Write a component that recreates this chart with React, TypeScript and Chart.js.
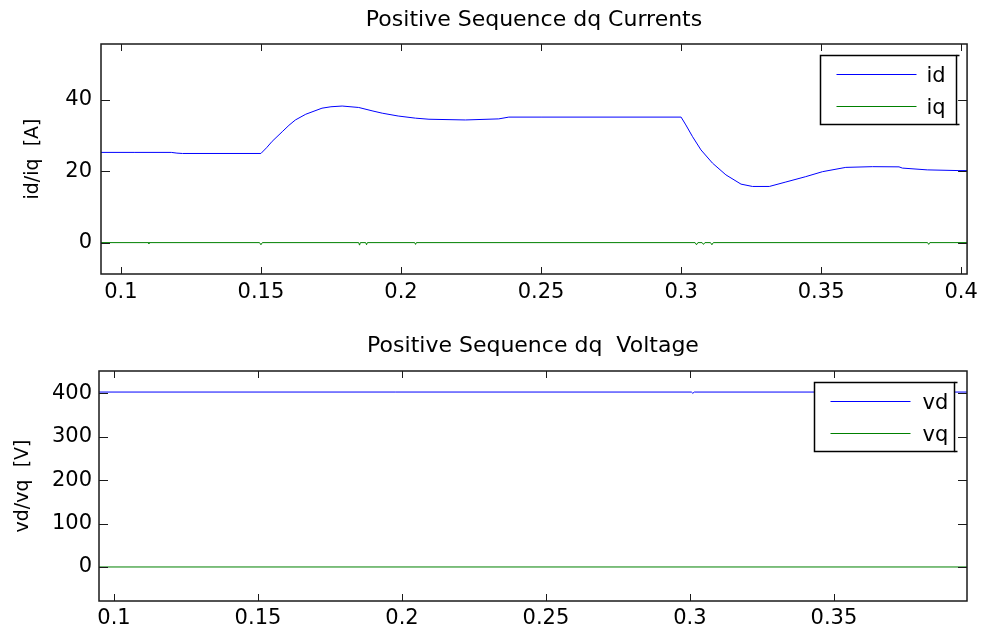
import React, { useEffect, useRef } from 'react';
import { Chart, registerables } from 'chart.js';

Chart.register(...registerables);

const FONT = "'DejaVu Sans', 'Liberation Sans', sans-serif";

// ---------- data ----------
const currentTitle = 'Positive Sequence dq Currents';
const voltageTitle = 'Positive Sequence dq  Voltage';
const currentYLabel = 'id/iq  [A]';
const voltageYLabel = 'vd/vq  [V]';

const idLabel = 'id';
const iqLabel = 'iq';
const vdLabel = 'vd';
const vqLabel = 'vq';

const idTime = [
  0.0929, 0.105, 0.118, 0.12, 0.122, 0.15, 0.152, 0.154, 0.1576, 0.16, 0.1623, 0.166,
  0.1718, 0.175, 0.179, 0.1849, 0.19, 0.1933, 0.199, 0.2052, 0.21, 0.223, 0.2349, 0.2385,
  0.25, 0.3, 0.3017, 0.3041, 0.3071, 0.3112, 0.316, 0.3214, 0.3255, 0.3315, 0.3374,
  0.3445, 0.3505, 0.3588, 0.3683, 0.3778, 0.379, 0.3879, 0.3992, 0.4021,
];
const idValues = [
  25.3, 25.3, 25.3, 25.1, 25.0, 25.0, 26.6, 28.4, 31.1, 32.9, 34.4, 36.0,
  37.7, 38.1, 38.3, 37.9, 36.9, 36.3, 35.5, 34.9, 34.6, 34.4, 34.7, 35.2,
  35.2, 35.2, 33.0, 29.7, 26.0, 22.3, 19.0, 16.4, 15.75, 15.75, 17.0,
  18.5, 19.9, 21.1, 21.3, 21.25, 20.9, 20.4, 20.2, 20.2,
];

const iqTime = [
  0.0929, 0.1099, 0.11, 0.1101, 0.1495, 0.15, 0.1505, 0.1849, 0.1852, 0.1855, 0.1874,
  0.1877, 0.188, 0.2049, 0.2052, 0.2055, 0.305, 0.3055, 0.306, 0.3075, 0.308, 0.3085,
  0.3105, 0.311, 0.3115, 0.388, 0.3884, 0.3888, 0.4021,
];
const iqValues = [
  0, 0, -0.3, 0, 0, -0.6, 0, 0, -0.7, 0, 0,
  -0.6, 0, 0, -0.5, 0, 0, -0.6, 0, 0, -0.5, 0,
  0, -0.6, 0, 0, -0.5, 0, 0,
];

const vdTime = [0.0948, 0.3005, 0.301, 0.3015, 0.3962];
const vdValues = [403, 403, 400, 403, 403];
const vqTime = [0.0948, 0.3962];
const vqValues = [0, 0];

const currentXTicks = [0.1, 0.15, 0.2, 0.25, 0.3, 0.35, 0.4];
const currentYTicks = [0, 20, 40];
const voltageXTicks = [0.1, 0.15, 0.2, 0.25, 0.3, 0.35];
const voltageYTicks = [0, 100, 200, 300, 400];

const currentXRange = [0.0929, 0.4021];
const currentYRange = [-8.8, 55.7];
const voltageXRange = [0.0948, 0.3962];
const voltageYRange = [-78.4, 451.5];

// ---------- plugin: MATLAB-like frame, inward ticks and legend ----------
const framePlugin = {
  id: 'matlabFrame',
  afterDatasetsDraw(chart: any, _args: any, opts: any) {
    const { ctx, chartArea: a, scales } = chart;
    const xs = scales.x;
    const ys = scales.y;
    ctx.save();
    ctx.strokeStyle = '#1a1a1a';
    ctx.lineWidth = 1;
    ctx.beginPath();
    xs.ticks.forEach((t: any) => {
      const px = Math.round(xs.getPixelForValue(t.value)) + 0.5;
      ctx.moveTo(px, a.bottom);
      ctx.lineTo(px, a.bottom - 7);
      ctx.moveTo(px, a.top);
      ctx.lineTo(px, a.top + 7);
    });
    ys.ticks.forEach((t: any) => {
      const py = Math.round(ys.getPixelForValue(t.value)) + 0.5;
      ctx.moveTo(a.left, py);
      ctx.lineTo(a.left + 9, py);
      ctx.moveTo(a.right, py);
      ctx.lineTo(a.right - 9, py);
    });
    ctx.stroke();

    ctx.lineWidth = 1.5;
    ctx.strokeRect(a.left, a.top, a.right - a.left, a.bottom - a.top);

    // legend
    const w = opts.width;
    const h = opts.height;
    const lx = Math.round(a.right - opts.rightInset - w) + 0.5;
    const ly = Math.round(a.top + opts.topInset) + 0.5;
    ctx.fillStyle = '#ffffff';
    ctx.fillRect(lx, ly, w, h);
    ctx.strokeStyle = '#000000';
    ctx.lineWidth = 1.5;
    ctx.strokeRect(lx, ly, w, h);
    ctx.beginPath();
    ctx.moveTo(lx + w, ly);
    ctx.lineTo(lx + w + 3, ly);
    ctx.moveTo(lx + w, ly + h);
    ctx.lineTo(lx + w + 3, ly + h);
    ctx.stroke();

    ctx.font = `21px ${FONT}`;
    ctx.textBaseline = 'middle';
    ctx.textAlign = 'left';
    chart.data.datasets.forEach((ds: any, i: number) => {
      const rowY = Math.round(ly + 18 + i * 32) + 0.5;
      ctx.strokeStyle = ds.borderColor;
      ctx.lineWidth = 1;
      ctx.beginPath();
      ctx.moveTo(lx + 16, rowY);
      ctx.lineTo(lx + 96, rowY);
      ctx.stroke();
      ctx.fillStyle = '#000000';
      ctx.fillText(ds.label, lx + opts.textOffset, rowY + 2);
    });
    ctx.restore();
  },
};

function toPoints(xs: number[], ys: number[]) {
  return xs.map((x, i) => ({ x, y: ys[i] }));
}

function makeConfig(p: {
  title: string;
  titlePad: { top: number; bottom: number };
  yLabel: string;
  yLabelPad: number;
  xTicks: number[];
  yTicks: number[];
  xRange: number[];
  yRange: number[];
  yWidth: number;
  xHeight: number;
  rightPad: number;
  xTickPad: number;
  yTickPad: number;
  datasets: any[];
  legend: any;
}): any {
  return {
    type: 'line',
    data: { datasets: p.datasets },
    plugins: [framePlugin],
    options: {
      responsive: false,
      animation: false,
      devicePixelRatio: 1,
      font: { family: FONT },
      layout: { padding: { left: 0, right: p.rightPad, top: 0, bottom: 0 } },
      elements: { point: { radius: 0 }, line: { tension: 0 } },
      plugins: {
        legend: { display: false },
        tooltip: { enabled: false },
        title: {
          display: true,
          text: p.title,
          color: '#000',
          fullSize: false,
          font: { family: FONT, size: 22, weight: 'normal', lineHeight: 1.2 },
          padding: p.titlePad,
        },
        matlabFrame: p.legend,
      },
      scales: {
        x: {
          type: 'linear',
          min: p.xRange[0],
          max: p.xRange[1],
          afterBuildTicks: (s: any) => {
            s.ticks = p.xTicks.map((v) => ({ value: v }));
          },
          afterFit: (s: any) => {
            s.height = p.xHeight;
          },
          grid: { display: false, drawTicks: false },
          border: { display: false },
          ticks: {
            autoSkip: false,
            maxRotation: 0,
            padding: p.xTickPad,
            color: '#000',
            font: { family: FONT, size: 21 },
            callback: (v: any) => String(v),
          },
        },
        y: {
          type: 'linear',
          min: p.yRange[0],
          max: p.yRange[1],
          afterBuildTicks: (s: any) => {
            s.ticks = p.yTicks.map((v) => ({ value: v }));
          },
          afterFit: (s: any) => {
            s.width = p.yWidth;
          },
          grid: { display: false, drawTicks: false },
          border: { display: false },
          ticks: {
            autoSkip: false,
            padding: p.yTickPad,
            color: '#000',
            font: { family: FONT, size: 21 },
            callback: (v: any) => String(v),
          },
          title: {
            display: true,
            text: p.yLabel,
            color: '#000',
            font: { family: FONT, size: 19, lineHeight: 1.2 },
            padding: { top: p.yLabelPad, bottom: 0 },
          },
        },
      },
    },
  };
}

export default function App() {
  const topRef = useRef<HTMLCanvasElement>(null);
  const botRef = useRef<HTMLCanvasElement>(null);

  useEffect(() => {
    const top = new Chart(
      topRef.current as HTMLCanvasElement,
      makeConfig({
        title: currentTitle,
        titlePad: { top: 7, bottom: 10.6 },
        yLabel: currentYLabel,
        yLabelPad: 22,
        xTicks: currentXTicks,
        yTicks: currentYTicks,
        xRange: currentXRange,
        yRange: currentYRange,
        yWidth: 101,
        xHeight: 36,
        rightPad: 16,
        xTickPad: 6,
        yTickPad: 9,
        legend: { width: 136, height: 69, rightInset: 11, topInset: 11, textOffset: 106 },
        datasets: [
          {
            label: idLabel,
            data: toPoints(idTime, idValues),
            borderColor: '#0000ff',
            borderWidth: 1,
            pointRadius: 0,
          },
          {
            label: iqLabel,
            data: toPoints(iqTime, iqValues),
            borderColor: '#008000',
            borderWidth: 1,
            pointRadius: 0,
          },
        ],
      })
    );
    const bot = new Chart(
      botRef.current as HTMLCanvasElement,
      makeConfig({
        title: voltageTitle,
        titlePad: { top: 23.3, bottom: 11.3 },
        yLabel: voltageYLabel,
        yLabelPad: 12,
        xTicks: voltageXTicks,
        yTicks: voltageYTicks,
        xRange: voltageXRange,
        yRange: voltageYRange,
        yWidth: 99,
        xHeight: 33,
        rightPad: 17,
        xTickPad: 5,
        yTickPad: 7,
        legend: { width: 140, height: 69, rightInset: 13, topInset: 11, textOffset: 108 },
        datasets: [
          {
            label: vdLabel,
            data: toPoints(vdTime, vdValues),
            borderColor: '#0000ff',
            borderWidth: 1,
            pointRadius: 0,
          },
          {
            label: vqLabel,
            data: toPoints(vqTime, vqValues),
            borderColor: '#008000',
            borderWidth: 1,
            pointRadius: 0,
          },
        ],
      })
    );
    return () => {
      top.destroy();
      bot.destroy();
    };
  }, []);

  return (
    <div style={{ position: 'absolute', left: 0, top: 0, width: 984, height: 634, background: '#fff' }}>
      <canvas ref={topRef} width={984} height={310} style={{ display: 'block' }} />
      <canvas ref={botRef} width={984} height={324} style={{ display: 'block' }} />
    </div>
  );
}
